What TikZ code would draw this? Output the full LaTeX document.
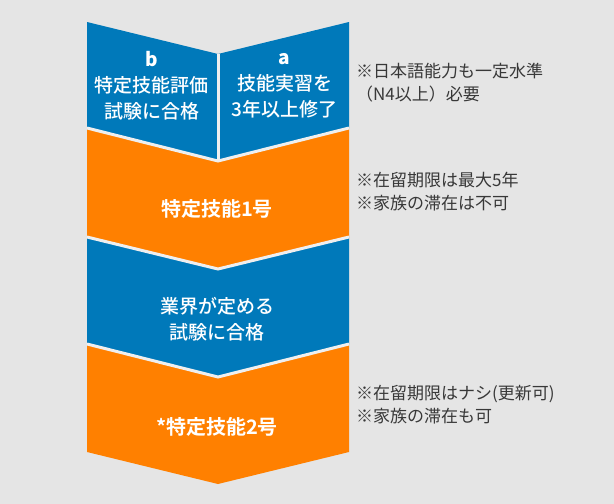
\documentclass[tikz,border=0pt]{standalone}
\usepackage{fontspec}
\setmainfont{Noto Sans CJK JP}[BoldFont={Noto Sans CJK JP Bold}]
\newfontfamily\stepfont{Noto Sans CJK JP Medium}
\definecolor{bgray}{HTML}{E5E5E5}
\definecolor{gapgray}{HTML}{EFEFEF}
\definecolor{stepblue}{HTML}{0079BA}
\definecolor{steporange}{HTML}{FF8000}
\definecolor{notegray}{HTML}{383838}
\begin{document}
\begin{tikzpicture}[x=1pt, y=-1pt]
	    \tikzset{gap/.style={draw=gapgray, line width=3pt},
	        steptext/.style={text=white, align=center, inner sep=0pt, font=\fontsize{19}{26}\stepfont},
	        titletext/.style={text=white, inner sep=0pt, font=\fontsize{20}{26}\selectfont\bfseries},
	        notetext/.style={text=notegray, align=left, anchor=west, inner sep=0pt, font=\fontsize{17}{23}\selectfont}}
	    \useasboundingbox (0,0) rectangle (614,504);
	    \fill[color=bgray] (0,0) rectangle (614,504);
	    \fill[color=stepblue] (87,22) -- (218,54) -- (349,22) -- (349,128) -- (218,161) -- (87,128) -- cycle;
	    \fill[color=steporange] (87,128) -- (218,161) -- (349,128) -- (349,237) -- (218,269) -- (87,237) -- cycle;
	    \fill[color=stepblue] (87,237) -- (218,269) -- (349,237) -- (349,344) -- (218,377) -- (87,344) -- cycle;
	    \fill[color=steporange] (87,344) -- (218,377) -- (349,344) -- (349,452) -- (218,484) -- (87,452) -- cycle;
	    \draw[gap] (218,54) -- (218,161);
	    \draw[gap] (87,128) -- (218,161) -- (349,128);
	    \draw[gap] (87,237) -- (218,269) -- (349,237);
	    \draw[gap] (87,344) -- (218,377) -- (349,344);
	    \node[steptext] (b) at (151.5,86) {\bfseries b\\特定技能評価\\試験に合格};
	    \node[steptext] (a) at (284.5,86) {\bfseries a\\技能実習を\\3年以上修了};
	    \node[titletext] (ichigo) at (217,209) {特定技能1号};
	    \node[steptext] (shiken) at (217,319) {業界が定める\\試験に合格};
	    \node[titletext] (nigo) at (217,427) {*特定技能2号};
	    \node[notetext] (nihongo) at (356,83) {※日本語能力も一定水準\\（N4以上）必要};
	    \node[notetext] (zairyu1) at (356,191.5) {※在留期限は最大5年\\※家族の滞在は不可};
	    \node[notetext] (zairyu2) at (356,405) {※在留期限はナシ(更新可)\\※家族の滞在も可};
\end{tikzpicture}
\end{document}
